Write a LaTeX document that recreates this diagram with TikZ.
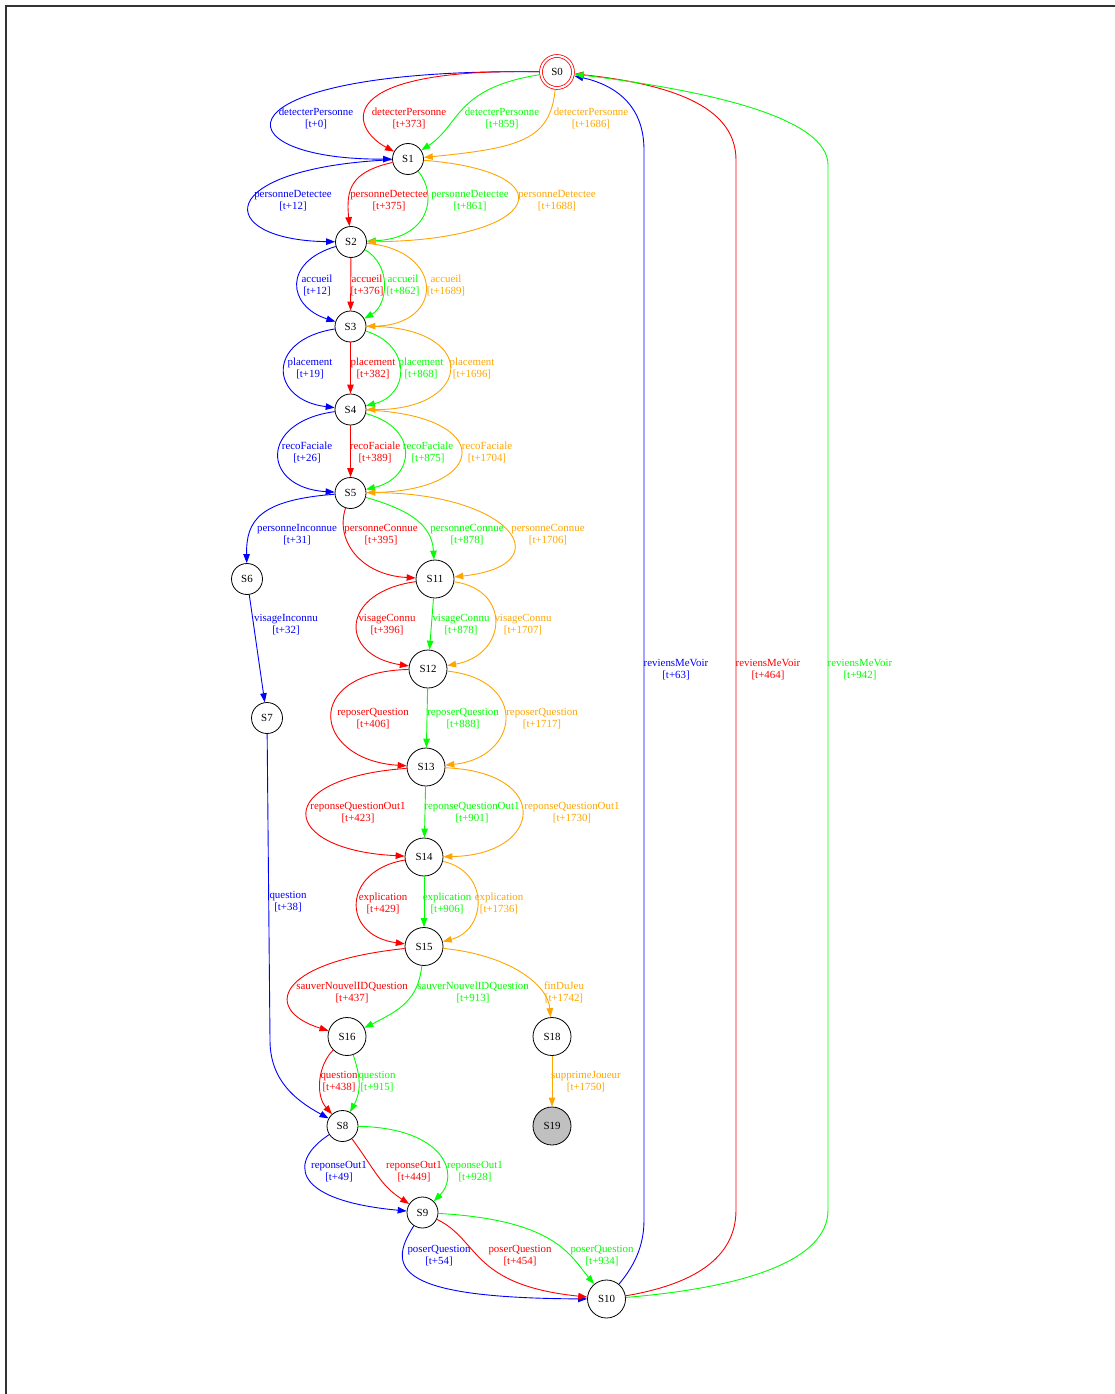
\documentclass[tikz,border=0pt]{standalone}
\usepackage{fontspec}
\setmainfont{Liberation Serif}
\usepackage{xcolor}
\usepackage{tikz}
\usetikzlibrary{arrows.meta}
\definecolor{tblue}{RGB}{0,0,255}
\definecolor{tred}{RGB}{255,0,0}
\definecolor{tgreen}{RGB}{0,255,0}
\definecolor{torange}{RGB}{255,165,0}
\definecolor{finalgray}{RGB}{192,192,192}
\tikzset{state/.style={circle,draw,line width=.8pt,minimum size=31pt,inner sep=0pt},
wstate/.style={state,minimum size=38pt},
tr/.style={-{Triangle[length=9pt,width=6.5pt]},line width=.9pt,#1},
lab/.style={align=center,text=#1,inner sep=0pt,yshift=-1pt}}
\begin{document}
\begin{tikzpicture}[x=1pt,y=-1pt,font=\fontsize{10.9}{12}\selectfont]
\useasboundingbox (0,0) rectangle (1115,1394);
\draw[line width=1.2pt,black!80] (6,1394)--(6,6)--(1115,6);
\node[state,draw=tred,double=white,double distance=2pt,minimum size=32pt,outer sep=1.8pt] (S0) at (557,72) {S0};
\node[state] (S1) at (408,159) {S1};
\node[state] (S2) at (351,242) {S2};
\node[state] (S3) at (350.5,326.5) {S3};
\node[state] (S4) at (350.5,409.5) {S4};
\node[state] (S5) at (350.5,493) {S5};
\node[state] (S6) at (247,579) {S6};
\node[state] (S7) at (267,718) {S7};
\node[state] (S8) at (342.5,1126) {S8};
\node[state] (S9) at (422.5,1212.5) {S9};
\node[wstate] (S10) at (606.5,1299) {S10};
\node[wstate] (S11) at (435,579) {S11};
\node[wstate] (S12) at (428,669) {S12};
\node[wstate] (S13) at (426,767) {S13};
\node[wstate] (S14) at (424,857) {S14};
\node[wstate] (S15) at (424,946.5) {S15};
\node[wstate] (S16) at (347,1036.5) {S16};
\node[wstate] (S18) at (552,1036.5) {S18};
\node[wstate,fill=finalgray] (S19) at (552,1126) {S19};
\draw[tr=tblue] (S0) .. controls (210,68) and (215,160) .. (S1);
\draw[tr=tred] (S0) .. controls (330,68) and (350,128) .. (S1);
\draw[tr=tgreen] (S0) .. controls (455,88) and (460,125) .. (S1);
\draw[tr=torange] (S0) .. controls (550,140) and (520,148) .. (S1);
\draw[tr=tblue] (S1) .. controls (210,168) and (214,240) .. (S2);
\draw[tr=tred] (S1) .. controls (350,172) and (346,190) .. (S2);
\draw[tr=tgreen] (S1) .. controls (438,195) and (430,238) .. (S2);
\draw[tr=torange] (S1) .. controls (570,172) and (542,240) .. (S2);
\draw[tr=tblue] (S2) .. controls (283,262) and (287,306) .. (S3);
\draw[tr=tred] (S2)--(S3);
\draw[tr=tgreen] (S2) .. controls (392,265) and (388,305) .. (S3);
\draw[tr=torange] (S2) .. controls (445,250) and (445,325) .. (S3);
\draw[tr=tblue] (S3) .. controls (265,340) and (270,400) .. (S4);
\draw[tr=tred] (S3)--(S4);
\draw[tr=tgreen] (S3) .. controls (412,345) and (410,395) .. (S4);
\draw[tr=torange] (S3) .. controls (480,325) and (475,410) .. (S4);
\draw[tr=tblue] (S4) .. controls (258,422) and (262,488) .. (S5);
\draw[tr=tred] (S4)--(S5);
\draw[tr=tgreen] (S4) .. controls (420,428) and (415,478) .. (S5);
\draw[tr=torange] (S4) .. controls (495,415) and (490,490) .. (S5);
\draw[tr=tblue] (S5) .. controls (260,500) and (246,520) .. (S6);
\draw[tr=tred] (S5) .. controls (335,540) and (360,575) .. (S11);
\draw[tr=tgreen] (S5) .. controls (410,510) and (432,525) .. (S11);
\draw[tr=torange] (S5) .. controls (510,490) and (565,565) .. (S11);
\draw[tr=tblue] (S6)--(S7);
\draw[tr=tblue] (S7) -- (270,1040) .. controls (270,1080) and (295,1100) .. (S8);
\draw[tr=tred] (S11) .. controls (340,592) and (338,655) .. (S12);
\draw[tr=tgreen] (S11)--(S12);
\draw[tr=torange] (S11) .. controls (512,590) and (507,655) .. (S12);
\draw[tr=tred] (S12) .. controls (300,672) and (313,760) .. (S13);
\draw[tr=tgreen] (S12)--(S13);
\draw[tr=torange] (S12) .. controls (530,680) and (519,758) .. (S13);
\draw[tr=tred] (S13) .. controls (270,778) and (278,850) .. (S14);
\draw[tr=tgreen] (S13)--(S14);
\draw[tr=torange] (S13) .. controls (553,772) and (543,855) .. (S14);
\draw[tr=tred] (S14) .. controls (343,870) and (340,935) .. (S15);
\draw[tr=tgreen] (S14)--(S15);
\draw[tr=torange] (S14) .. controls (490,872) and (487,930) .. (S15);
\draw[tr=tred] (S15) .. controls (275,962) and (262,1010) .. (S16);
\draw[tr=tgreen] (S15) .. controls (418,1000) and (400,1010) .. (S16);
\draw[tr=torange] (S15) .. controls (510,955) and (548,985) .. (S18);
\draw[tr=tred] (S16) .. controls (318,1065) and (315,1095) .. (S8);
\draw[tr=tgreen] (S16) .. controls (360,1075) and (362,1090) .. (S8);
\draw[tr=torange] (S18)--(S19);
\draw[tr=tblue] (S8) .. controls (290,1160) and (288,1200) .. (S9);
\draw[tr=tred] (S8) .. controls (375,1170) and (380,1185) .. (S9);
\draw[tr=tgreen] (S8) .. controls (445,1128) and (460,1175) .. (S9);
\draw[tr=tblue] (S9) .. controls (385,1270) and (400,1298) .. (S10);
\draw[tr=tred] (S9) .. controls (480,1240) and (470,1285) .. (S10);
\draw[tr=tgreen] (S9) .. controls (555,1220) and (570,1255) .. (S10);
\draw[tr=tblue] (S10) .. controls (635,1265) and (644,1245) .. (644,1220) -- (644,150) .. controls (644,105) and (615,85) .. (S0);
\draw[tr=tred] (S10) .. controls (690,1285) and (736,1260) .. (736,1210) -- (736,160) .. controls (736,110) and (680,85) .. (S0);
\draw[tr=tgreen] (S10) .. controls (740,1288) and (828,1262) .. (828,1210) -- (828,165) .. controls (828,120) and (720,92) .. (S0);
\foreach \nm/\col/\x/\y/\ev/\tm in {
l01b/tblue/316/117/detecterPersonne/0, l01r/tred/409/117/detecterPersonne/373,
l01g/tgreen/502/117/detecterPersonne/859, l01o/torange/591/117/detecterPersonne/1686,
l12b/tblue/293/200/personneDetectee/12, l12r/tred/389/200/personneDetectee/375,
l12g/tgreen/470/200/personneDetectee/861, l12o/torange/557/200/personneDetectee/1688,
l23b/tblue/317/284/accueil/12, l23r/tred/367/284/accueil/376,
l23g/tgreen/403/284/accueil/862, l23o/torange/446/284/accueil/1689,
l34b/tblue/310/367/placement/19, l34r/tred/373/367/placement/382,
l34g/tgreen/421/367/placement/868, l34o/torange/472/367/placement/1696,
l45b/tblue/307/451/recoFaciale/26, l45r/tred/375/451/recoFaciale/389,
l45g/tgreen/428/451/recoFaciale/875, l45o/torange/487/451/recoFaciale/1704,
l56b/tblue/297/534/personneInconnue/31, l511r/tred/381/534/personneConnue/395,
l511g/tgreen/467/534/personneConnue/878, l511o/torange/548/534/personneConnue/1706,
l67b/tblue/286/624/visageInconnu/32, l1112r/tred/387/624/visageConnu/396,
l1112g/tgreen/461/624/visageConnu/878, l1112o/torange/523/624/visageConnu/1707,
l1213r/tred/373/718/reposerQuestion/406, l1213g/tgreen/463/718/reposerQuestion/888,
l1213o/torange/542/718/reposerQuestion/1717, l1314r/tred/358/812/reponseQuestionOut1/423,
l1314g/tgreen/472/812/reponseQuestionOut1/901, l1314o/torange/572/812/reponseQuestionOut1/1730,
l1415r/tred/383/902/explication/429, l1415g/tgreen/447/902/explication/906,
l1415o/torange/499/902/explication/1736, l78b/tblue/288/901/question/38,
l1516r/tred/352/991/sauverNouvelIDQuestion/437, l1516g/tgreen/473/991/sauverNouvelIDQuestion/913,
l1518o/torange/564/991/finDuJeu/1742, l168r/tred/339/1081/question/438,
l168g/tgreen/377/1081/question/915, l1819o/torange/586/1081/supprimeJoueur/1750,
l89b/tblue/339/1171/reponseOut1/49, l89r/tred/414/1171/reponseOut1/449,
l89g/tgreen/475/1171/reponseOut1/928, l910b/tblue/439/1255/poserQuestion/54,
l910r/tred/520/1255/poserQuestion/454, l910g/tgreen/602/1255/poserQuestion/934,
l100b/tblue/676/669/reviensMeVoir/63, l100r/tred/768/669/reviensMeVoir/464,
l100g/tgreen/860/669/reviensMeVoir/942}
{\node[lab=\col] (\nm) at (\x,\y) {\ev\\{[t+\tm]}};}
\end{tikzpicture}
\end{document}
